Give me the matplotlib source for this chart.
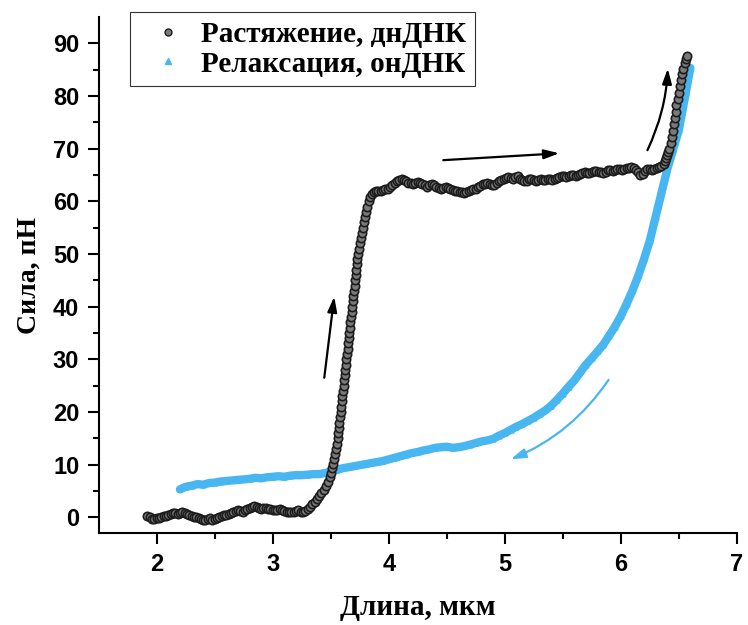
import matplotlib.pyplot as plt
from matplotlib.lines import Line2D

# растяжение (dsDNA), длина мкм / сила пН
stretch_x = [1.92, 1.94, 1.96, 1.98, 2.00, 2.02, 2.04, 2.06, 2.08, 2.10, 2.12, 2.14, 2.16, 2.18, 2.20,
             2.22, 2.24, 2.26, 2.28, 2.30, 2.32, 2.34, 2.36, 2.38, 2.40, 2.42, 2.44, 2.46, 2.48, 2.50,
             2.52, 2.54, 2.56, 2.58, 2.60, 2.62, 2.64, 2.66, 2.68, 2.70, 2.72, 2.74, 2.76, 2.78, 2.80,
             2.82, 2.84, 2.86, 2.88, 2.90, 2.92, 2.94, 2.96, 2.98, 3.00, 3.02, 3.04, 3.06, 3.08, 3.10,
             3.12, 3.14, 3.16, 3.18, 3.20, 3.22, 3.24, 3.26, 3.28, 3.30,
             3.32, 3.34, 3.36, 3.38, 3.40, 3.42, 3.44, 3.46, 3.475, 3.49, 3.50, 3.51, 3.52, 3.53, 3.54,
             3.547, 3.553, 3.56, 3.565, 3.57, 3.575, 3.58, 3.585, 3.59, 3.595, 3.60, 3.605, 3.61, 3.615,
             3.62, 3.625, 3.63, 3.635, 3.64, 3.645, 3.65, 3.655, 3.66, 3.665, 3.67, 3.675, 3.68, 3.685,
             3.69, 3.695, 3.70, 3.705, 3.71, 3.715, 3.72, 3.725, 3.73, 3.737, 3.744, 3.751, 3.758, 3.766,
             3.774, 3.783, 3.792, 3.802, 3.813, 3.826, 3.84, 3.855, 3.87, 3.89,
             3.91, 3.93, 3.95, 3.97, 3.99, 4.01, 4.03, 4.05, 4.07, 4.09, 4.11, 4.13, 4.15, 4.17, 4.19,
             4.21, 4.23, 4.25, 4.27, 4.29, 4.31, 4.33, 4.35, 4.37, 4.39, 4.41, 4.43, 4.45, 4.47, 4.49,
             4.51, 4.53, 4.55, 4.57, 4.59, 4.61, 4.63, 4.65, 4.67, 4.69, 4.71, 4.73, 4.75, 4.77, 4.79,
             4.81, 4.83, 4.85, 4.87, 4.89, 4.91, 4.93, 4.95, 4.97, 4.99, 5.01, 5.03, 5.05, 5.07, 5.09,
             5.11, 5.13, 5.15, 5.17, 5.19, 5.21, 5.23, 5.25, 5.27, 5.29, 5.31, 5.33, 5.35, 5.37, 5.39,
             5.41, 5.43, 5.45, 5.47, 5.49, 5.51, 5.53, 5.55, 5.57, 5.59, 5.61, 5.63, 5.65, 5.67, 5.69,
             5.71, 5.73, 5.75, 5.77, 5.79, 5.81, 5.83, 5.85, 5.87, 5.89, 5.91, 5.93, 5.95, 5.97, 5.99,
             6.01, 6.03, 6.05, 6.07, 6.09, 6.11, 6.13, 6.15, 6.17, 6.19, 6.21, 6.23, 6.25, 6.27, 6.29,
             6.31, 6.33, 6.35,
             6.37, 6.38, 6.39, 6.40, 6.41, 6.42, 6.43, 6.44, 6.45, 6.46, 6.47, 6.475, 6.48, 6.49, 6.50,
             6.51, 6.52, 6.53, 6.54, 6.55, 6.56, 6.567]
stretch_y = [0.3, 0.0, -0.3, -0.4, -0.2, -0.1, 0.1, 0.2, 0.3, 0.5, 0.6, 0.8, 0.9, 0.7, 0.9,
             1.0, 0.8, 0.6, 0.5, 0.3, 0.1, 0.0, -0.2, -0.3, -0.5, -0.6, -0.3, -0.2, -0.5, -0.4,
             -0.2, 0.0, 0.2, 0.4, 0.5, 0.7, 0.9, 1.0, 1.2, 1.3, 1.2, 1.1, 1.3, 1.5, 1.7,
             1.9, 2.1, 2.0, 1.8, 1.6, 1.7, 1.8, 1.6, 1.5, 1.4, 1.3, 1.4, 1.5, 1.3, 1.2,
             1.1, 1.0, 1.0, 1.1, 1.2, 1.3, 1.1, 1.0, 1.2, 1.6,
             2.0, 2.5, 3.0, 3.5, 4.0, 4.6, 5.2, 6.0, 6.8, 7.7, 8.5, 9.3, 10.1, 11.0, 12.0,
             13.0, 14.0, 15.0, 16.0, 17.0, 18.0, 19.0, 20.0, 21.0, 22.0, 23.0, 24.0, 25.0, 26.0,
             27.0, 28.0, 29.0, 30.0, 31.0, 32.0, 33.0, 34.0, 35.0, 36.0, 37.0, 38.0, 39.0, 40.0,
             41.0, 42.0, 43.0, 44.0, 45.0, 46.0, 47.0, 48.0, 49.0, 50.0, 51.0, 52.0, 53.0, 54.0,
             55.0, 56.0, 57.0, 58.0, 59.0, 60.0, 60.8, 61.4, 61.8, 62.0,
             61.9, 62.0, 62.1, 62.3, 62.4, 62.7, 63.0, 63.4, 63.8, 64.1, 64.2, 64.0, 63.8, 63.5, 63.4,
             63.2, 63.4, 63.6, 63.5, 63.2, 63.0, 62.8, 63.0, 63.3, 63.1, 62.7, 62.5, 62.3, 62.5, 62.7,
             62.6, 62.4, 62.2, 62.0, 61.9, 61.8, 61.7, 61.6, 61.8, 61.9, 62.1, 62.3, 62.4, 62.7, 62.9,
             63.2, 63.3, 63.5, 63.3, 63.0, 63.1, 63.4, 63.8, 64.1, 64.3, 64.5, 64.6, 64.4, 64.3, 64.6,
             64.7, 64.3, 64.0, 63.8, 63.9, 64.2, 64.3, 64.0, 63.9, 64.1, 64.2, 64.0, 64.1, 64.3, 64.2,
             64.1, 64.3, 64.5, 64.6, 64.8, 64.7, 64.6, 64.8, 65.0, 64.9, 64.8, 65.0, 65.2, 65.3, 65.5,
             65.4, 65.3, 65.5, 65.8, 65.7, 65.6, 65.5, 65.4, 65.6, 65.9, 65.9, 65.8, 66.0, 66.2, 66.1,
             66.0, 66.2, 66.3, 66.4, 66.5, 66.3, 66.0, 65.6, 65.0, 65.2, 65.8, 66.2, 66.1, 66.0, 66.2,
             66.3, 66.5, 66.7,
             67.0, 67.6, 68.2, 68.8, 69.4, 70.0, 71.0, 72.2, 73.4, 74.6, 75.8, 77.0, 78.2, 79.4, 80.6,
             81.8, 83.0, 84.2, 85.2, 86.2, 87.0, 87.6]

# релаксация (ssDNA)
relax_x = [2.20, 2.25, 2.30, 2.35, 2.40, 2.45, 2.50, 2.55, 2.60, 2.65, 2.70, 2.75, 2.80, 2.85, 2.90,
           2.95, 3.00, 3.05, 3.10, 3.15, 3.20, 3.25, 3.30, 3.35, 3.40, 3.45, 3.50, 3.55, 3.60, 3.65,
           3.70, 3.75, 3.80, 3.85, 3.90, 3.95, 4.00, 4.05, 4.10, 4.15, 4.20, 4.25, 4.30, 4.35, 4.40,
           4.45, 4.50, 4.55, 4.60, 4.65, 4.70, 4.75, 4.80, 4.85, 4.90, 4.95, 5.00, 5.05, 5.10, 5.15,
           5.20, 5.25, 5.30, 5.35, 5.40, 5.45, 5.50, 5.55, 5.60, 5.65, 5.70, 5.75, 5.80, 5.85, 5.90,
           5.95, 6.00, 6.05, 6.10, 6.15, 6.20, 6.25, 6.30, 6.35, 6.40, 6.45, 6.50, 6.53, 6.56, 6.58,
           6.60]
relax_y = [5.3, 5.8, 6.0, 6.3, 6.2, 6.5, 6.6, 6.8, 6.9, 7.0, 7.1, 7.2, 7.3, 7.5, 7.4,
           7.6, 7.7, 7.8, 7.7, 7.9, 8.0, 8.0, 8.1, 8.2, 8.2, 8.4, 8.7, 9.0, 9.3, 9.5,
           9.7, 9.9, 10.1, 10.3, 10.5, 10.7, 11.0, 11.3, 11.6, 11.9, 12.2, 12.4, 12.7, 12.9, 13.2,
           13.3, 13.4, 13.2, 13.3, 13.5, 13.8, 14.1, 14.4, 14.6, 14.9, 15.5, 16.0, 16.6, 17.2, 17.7,
           18.3, 18.9, 19.6, 20.3, 21.2, 22.3, 23.5, 24.8, 26.0, 27.5, 29.0, 30.2, 31.5, 32.8, 34.5,
           36.2, 38.2, 40.5, 43.0, 45.8, 49.0, 52.5, 57.0, 61.5, 66.0, 69.7, 73.5, 77.0, 80.5, 83.0,
           85.3]

labels = ['Растяжение, днДНК', 'Релаксация, онДНК']
blue = '#48b6f0'

fig = plt.figure(figsize=(7.48, 6.25), dpi=100)
ax = fig.add_axes([0.132, 0.147, 0.853, 0.826])

ax.plot(relax_x, relax_y, color=blue, lw=6, solid_capstyle='round', zorder=2)
ax.plot(relax_x, relax_y, ls='none', marker='^', ms=3.5, color=blue, zorder=2)
ax.plot(stretch_x, stretch_y, ls='none', marker='o', ms=6, mfc='#7a7a7a', mec='#1c1c1c',
        mew=1.2, zorder=3)

# стрелки направления
arw = dict(arrowstyle='-|>,head_length=0.9,head_width=0.28', color='black', lw=1.6,
           shrinkA=0, shrinkB=0)
ax.annotate('', xy=(3.53, 41.9), xytext=(3.444, 26.5), arrowprops=arw)
ax.annotate('', xy=(5.47, 69.1), xytext=(4.47, 67.8), arrowprops=arw)
ax.annotate('', xy=(6.405, 85.2), xytext=(6.23, 69.7),
            arrowprops=dict(arw, connectionstyle='arc3,rad=0.1'))
ax.annotate('', xy=(5.05, 11.0), xytext=(5.895, 26.1),
            arrowprops=dict(arw, color=blue, connectionstyle='arc3,rad=-0.15'))

ax.set_xlim(1.5, 7)
ax.set_ylim(-3, 95)
ax.set_xticks([2, 3, 4, 5, 6, 7])
ax.set_xticks([2.5, 3.5, 4.5, 5.5, 6.5], minor=True)
ax.set_yticks(range(0, 91, 10))
ax.set_yticks(range(5, 95, 10), minor=True)
for s in ['top', 'right']:
    ax.spines[s].set_visible(False)
for s in ['left', 'bottom']:
    ax.spines[s].set_linewidth(1.5)
ax.tick_params(which='major', length=8, width=1.5, pad=6)
ax.tick_params(which='minor', length=4, width=1.5)
for t in ax.get_xticklabels() + ax.get_yticklabels():
    t.set_family('Liberation Sans')
    t.set_fontweight('bold')
    t.set_fontsize(17)

ax.set_xlabel('Длина, мкм', family='Liberation Serif', fontweight='bold', fontsize=21, labelpad=13)
ax.set_ylabel('Сила, пН', family='Liberation Serif', fontweight='bold', fontsize=20, labelpad=8)

handles = [Line2D([], [], ls='none', marker='o', ms=5, mfc='#7a7a7a', mec='#1c1c1c', mew=1),
           Line2D([], [], ls='none', marker='^', ms=5, color=blue)]
leg = ax.legend(handles, labels, loc='upper left', bbox_to_anchor=(130 / 748, 1 - 12 / 625),
                bbox_transform=fig.transFigure, borderaxespad=0, fancybox=False,
                prop=dict(family='Liberation Serif', weight='bold', size=21),
                handletextpad=0.15, handlelength=2.0, labelspacing=0.1, borderpad=0.3)
leg.get_frame().set_edgecolor('black')
leg.get_frame().set_linewidth(0.8)

fig.savefig('out.png', dpi=100)
